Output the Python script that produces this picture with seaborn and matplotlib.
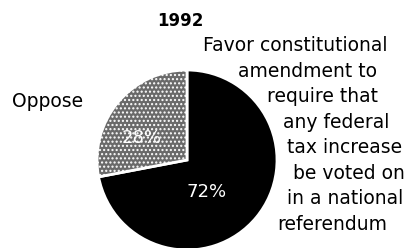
import matplotlib
matplotlib.use("Agg")
import matplotlib.pyplot as plt
import seaborn as sns

# data
year = "1992"
shares = [72, 28]
slice_colors = ["black", "#6a6a6a"]
oppose_label = "Oppose"
favor_lines = ["Favor constitutional", "amendment to", "require that",
               "any federal", "tax increase", "be voted on",
               "in a national", "referendum"]

sns.set_style("white")
plt.rcParams["font.family"] = ["DejaVu Sans"]
plt.rcParams["text.color"] = "black"
plt.rcParams["hatch.linewidth"] = 1.0

W, H = 405, 248
fig = plt.figure(figsize=(W / 100, H / 100), dpi=100)
ax = fig.add_axes([0, 0, 1, 1])

# pixel coords, y measured from top
cx, cy, r = 187, 160, 90
wedges, _ = ax.pie(shares, colors=slice_colors, startangle=270, counterclock=True,
                   radius=r, center=(cx, cy),
                   wedgeprops=dict(edgecolor="white", linewidth=2))
wedges[1].set_hatch("....")

ax.set_xlim(0, W)
ax.set_ylim(H, 0)
ax.set_aspect("auto")
ax.axis("off")

ax.text(180, 26, year, ha="center", va="baseline", fontsize=12, fontweight="bold")
ax.text(12, 107, oppose_label, ha="left", va="baseline", fontsize=13.5)

# percent labels inside slices
ax.text(207, 197, f"{shares[0]}%", ha="center", va="baseline", fontsize=13, color="white")
ax.text(142, 143, f"{shares[1]}%", ha="center", va="baseline", fontsize=13, color="white")

# text wrapped around the pie
xs = [203, 238, 267, 283, 287, 293, 287, 277]
ys = [51, 77, 102, 128, 153, 179, 204, 230]
for txt, x, y in zip(favor_lines, xs, ys):
    ax.text(x, y, txt, ha="left", va="baseline", fontsize=13.5)

fig.savefig("out.png", dpi=100)
